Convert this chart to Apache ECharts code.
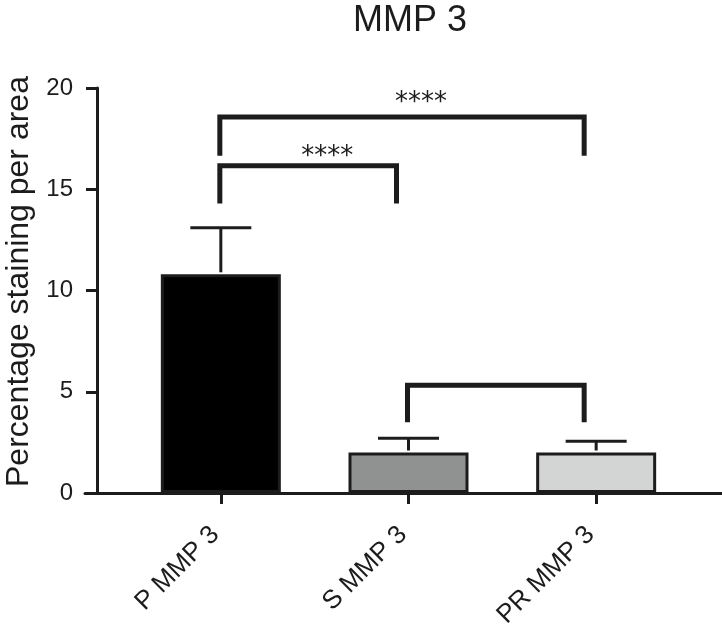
<!DOCTYPE html>
<html>
<head>
<meta charset="utf-8">
<script src="https://cdn.jsdelivr.net/npm/echarts@6/dist/echarts.min.js"></script>
<style>html,body{margin:0;padding:0;background:#fff;}#c{width:722px;height:635px;}</style>
</head>
<body>
<div id="c"></div>
<script>
var categories = ['P MMP 3', 'S MMP 3', 'PR MMP 3'];
var means = [10.8, 2.0, 2.0];
var upperErrors = [13.1, 2.7, 2.55];
var barColors = ['#000000', '#909292', '#d3d5d5'];
// [fromIndex, toIndex, topValue, leftLegEnd, rightLegEnd, label, labelValue]
var brackets = [
  [0, 2, 18.57, 16.65, 16.65, '****', 19.45],
  [0, 1, 16.16, 14.3, 14.3, '****', 16.8],
  [1, 2, 5.32, 3.5, 3.5, '', 0]
];
var yTicks = { min: 0, max: 20, interval: 5 };
var titleText = 'MMP 3';
var yName = 'Percentage staining per area';

var FONT = '"Liberation Sans", Arial, Helvetica, sans-serif';
var INK = '#1c1c1c';

var chart = echarts.init(document.getElementById('c'));
chart.setOption({
  animation: false,
  backgroundColor: '#fff',
  title: {
    text: titleText, left: 405, top: -2, textAlign: 'center',
    textStyle: { fontFamily: FONT, fontSize: 36, fontWeight: 'normal', color: INK }
  },
  grid: [
    { left: 127, right: 32, top: 88, bottom: 142, containLabel: false, outerBoundsMode: 'none' },
    { left: 85, right: 0, top: 88, bottom: 142, containLabel: false, outerBoundsMode: 'none' }
  ],
  xAxis: [
    {
      type: 'category', data: categories, gridIndex: 0,
      axisLine: { show: true, lineStyle: { color: INK, width: 3 } },
      axisTick: { show: true, alignWithLabel: true, length: 11, lineStyle: { color: INK, width: 3 } },
      axisLabel: { rotate: 45, fontFamily: FONT, fontSize: 26, color: INK, margin: 32, padding: [0, 8, 0, 0] }
    },
    {
      type: 'value', gridIndex: 1, min: 0, max: 1,
      axisLine: { show: true, lineStyle: { color: INK, width: 3 } },
      axisTick: { show: false }, axisLabel: { show: false }, splitLine: { show: false }
    }
  ],
  yAxis: [
    {
      type: 'value', gridIndex: 0, min: yTicks.min, max: yTicks.max, interval: yTicks.interval,
      offset: 30,
      name: yName, nameLocation: 'middle', nameGap: 62,
      nameTextStyle: { fontFamily: FONT, fontSize: 32, color: INK, padding: [0, 0, 0, 18] },
      axisLine: { show: true, lineStyle: { color: INK, width: 3 } },
      axisTick: { show: true, length: 11, lineStyle: { color: INK, width: 3 } },
      axisLabel: { fontFamily: FONT, fontSize: 24, color: INK, margin: 24 },
      splitLine: { show: false }
    },
    { type: 'value', gridIndex: 1, min: 0, max: 20, show: false }
  ],
  series: [
    {
      type: 'bar', xAxisIndex: 0, yAxisIndex: 0, barWidth: 120,
      data: means.map(function (v, i) {
        return { value: v, itemStyle: { color: barColors[i] } };
      }),
      itemStyle: { borderColor: INK, borderWidth: 3 },
      z: 2
    },
    {
      type: 'custom', xAxisIndex: 0, yAxisIndex: 0, z: 3,
      data: means.map(function (v, i) { return [i, v, upperErrors[i]]; }),
      encode: { x: 0, y: 2 },
      renderItem: function (params, api) {
        var base = api.coord([api.value(0), api.value(1)]);
        var top = api.coord([api.value(0), api.value(2)]);
        var half = 30.5;
        return {
          type: 'group',
          children: [
            { type: 'line', shape: { x1: base[0], y1: base[1] - 2, x2: top[0], y2: top[1] },
              style: { stroke: INK, lineWidth: 3 } },
            { type: 'line', shape: { x1: top[0] - half, y1: top[1], x2: top[0] + half, y2: top[1] },
              style: { stroke: INK, lineWidth: 3 } }
          ]
        };
      }
    },
    {
      type: 'custom', xAxisIndex: 0, yAxisIndex: 0, z: 4,
      data: brackets.map(function (b) { return [b[0], b[1], b[2], b[3], b[4], b[6]]; }),
      encode: { x: 0, y: 2 },
      renderItem: function (params, api) {
        var i1 = api.value(0), i2 = api.value(1);
        var pTopL = api.coord([i1, api.value(2)]);
        var pTopR = api.coord([i2, api.value(2)]);
        var pL = api.coord([i1, api.value(3)]);
        var pR = api.coord([i2, api.value(4)]);
        var pLab = api.coord([i1, api.value(5)]);
        var xl = pL[0] - 1, xr = pR[0] - 12;
        var label = brackets[params.dataIndex][5];
        var children = [
          { type: 'polyline',
            shape: { points: [[xl, pL[1]], [xl, pTopL[1]], [xr, pTopR[1]], [xr, pR[1]]] },
            style: { stroke: INK, lineWidth: 5, fill: null, lineJoin: 'miter', lineCap: 'butt' } }
        ];
        if (label) {
          children.push({
            type: 'text',
            style: {
              text: label, x: (xl + xr) / 2 + 19, y: pLab[1] + 4,
              align: 'center', verticalAlign: 'middle',
              font: '26px "DejaVu Sans", sans-serif', fill: INK
            }
          });
        }
        return { type: 'group', children: children };
      }
    }
  ]
});
</script>
</body>
</html>
